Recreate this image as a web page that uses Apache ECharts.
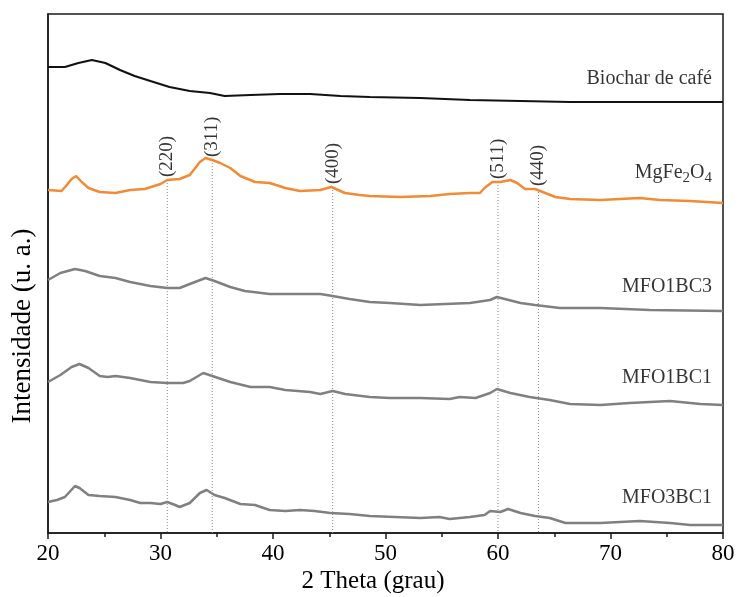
<!DOCTYPE html>
<html>
<head>
<meta charset="utf-8">
<script src="https://cdn.jsdelivr.net/npm/echarts@6/dist/echarts.min.js"></script>
<style>
  html, body { margin: 0; padding: 0; background: #fff; }
  #main { width: 739px; height: 597px; }
</style>
</head>
<body>
<div id="main"></div>
<script>
// 2 Theta (grau) e intensidade (u. a., com deslocamento vertical de cada curva)
const biocharTheta = [20.0, 21.5, 22.7, 23.9, 25.1, 26.4, 27.7, 29.1, 30.8, 32.6, 34.4, 35.7, 38.0, 40.6, 43.3, 46.0, 48.6, 53.1, 57.5, 62.0, 66.4, 70.8, 75.3, 80.0];
const biocharInt = [466, 466, 470, 473, 470, 463, 457, 452, 446, 442, 440, 437, 438, 439, 439, 437, 436, 435, 433, 432, 431, 431, 431, 431];

const mgfeTheta = [20.0, 21.2, 21.6, 22.1, 22.5, 23.0, 23.6, 24.6, 26.0, 27.3, 28.6, 30.0, 30.6, 31.7, 32.6, 33.5, 34.0, 34.6, 35.3, 36.2, 37.1, 38.4, 39.7, 41.1, 42.4, 44.2, 45.2, 46.4, 47.7, 48.6, 51.3, 54.0, 55.7, 57.5, 58.4, 58.8, 59.5, 60.2, 61.1, 61.7, 62.4, 63.3, 64.2, 65.1, 66.4, 69.1, 70.8, 72.6, 74.4, 77.1, 80.0];
const mgfeInt = [343, 342, 347, 354, 357, 351, 345, 341, 340, 343, 344, 349, 353, 354, 358, 371, 375, 373, 370, 365, 357, 351, 350, 345, 342, 343, 346, 340, 338, 337, 336, 337, 339, 340, 340, 345, 351, 351, 353, 350, 344, 344, 340, 336, 334, 333, 334, 335, 333, 332, 330];

const mfo1bc3Theta = [20.0, 21.1, 22.4, 23.3, 24.6, 26.0, 27.3, 29.1, 30.6, 31.7, 32.6, 34.0, 34.8, 36.2, 37.5, 39.7, 42.4, 44.2, 45.3, 46.8, 48.6, 50.4, 53.1, 57.5, 59.3, 59.9, 62.0, 63.3, 65.5, 69.1, 73.5, 80.0];
const mfo1bc3Int = [253, 260, 264, 262, 257, 255, 251, 247, 245, 245, 249, 255, 252, 246, 242, 239, 239, 239, 237, 234, 231, 230, 228, 230, 233, 236, 230, 228, 225, 225, 223, 222];

const mfo1bc1Theta = [20.0, 21.1, 22.1, 22.8, 23.6, 24.6, 25.3, 26.0, 27.3, 29.1, 30.6, 32.0, 32.6, 33.8, 34.6, 36.2, 38.0, 39.7, 41.1, 43.3, 44.2, 45.3, 46.4, 48.6, 50.4, 53.1, 55.7, 56.6, 58.0, 59.3, 59.9, 61.1, 62.8, 64.6, 66.4, 69.1, 71.7, 75.3, 78.0, 80.0];
const mfo1bc1Int = [151, 158, 166, 169, 165, 157, 156, 157, 155, 151, 150, 150, 152, 160, 157, 151, 146, 146, 143, 141, 139, 142, 139, 136, 135, 135, 134, 136, 135, 140, 144, 140, 136, 133, 129, 128, 130, 132, 129, 128];

const mfo3bc1Theta = [20.0, 20.8, 21.5, 22.4, 22.8, 23.6, 24.6, 26.0, 27.3, 28.2, 29.1, 30.0, 30.6, 31.3, 31.7, 32.6, 33.5, 34.1, 34.8, 35.7, 37.1, 38.4, 39.7, 41.1, 42.4, 43.7, 45.1, 46.8, 48.6, 53.1, 54.8, 55.7, 57.5, 58.8, 59.3, 60.2, 60.9, 62.0, 63.3, 64.6, 66.0, 69.1, 72.6, 75.3, 77.1, 80.0];
const mfo3bc1Int = [31, 33, 36, 47, 45, 38, 37, 36, 33, 30, 30, 29, 31, 28, 26, 30, 40, 43, 38, 35, 29, 28, 23, 22, 23, 22, 20, 19, 17, 15, 16, 14, 16, 18, 22, 21, 24, 20, 17, 15, 10, 10, 12, 10, 8, 8];

// planos cristalinos do MgFe2O4
const reflexoes = ['(220)', '(311)', '(400)', '(511)', '(440)'];
const reflexoesTheta = [30.6, 34.6, 45.3, 60.0, 63.6];
const reflexoesTopo = [353, 373, 346, 351, 344];

// nomes das amostras (lado direito)
const nomes = ['Biochar de café', 'MgFe{s|2}O{s|4}', 'MFO1BC3', 'MFO1BC1', 'MFO3BC1'];
const nomesInt = [454, 360, 246, 155, 35];

const xTicks = [20, 30, 40, 50, 60, 70, 80];

const serif = 'Liberation Serif';

function zip(a, b) {
  return a.map((v, i) => [v, b[i]]);
}

function curva(nome, theta, inten, cor, largura) {
  return {
    name: nome,
    type: 'line',
    data: zip(theta, inten),
    showSymbol: false,
    smooth: false,
    z: 3,
    lineStyle: { color: cor, width: largura }
  };
}

let chart = echarts.init(document.getElementById('main'));

let linhasPontilhadas = reflexoesTheta.map((t, i) => ({
  type: 'line',
  data: [[t, reflexoesTopo[i]], [t, 0]],
  showSymbol: false,
  silent: true,
  z: 1,
  lineStyle: { color: '#8a8a8a', width: 1, type: [1, 2] }
}));

let option = {
  animation: false,
  backgroundColor: '#fff',
  grid: {
    left: 48,
    right: 16,
    top: 14,
    bottom: 64,
    show: true,
    borderColor: '#1a1a1a',
    borderWidth: 1.5
  },
  xAxis: {
    type: 'value',
    min: xTicks[0],
    max: xTicks[xTicks.length - 1],
    interval: 10,
    axisLine: { onZero: false, lineStyle: { color: '#1a1a1a', width: 1.5 } },
    axisTick: { length: 6, lineStyle: { color: '#1a1a1a', width: 1.5 } },
    minorTick: { show: true, splitNumber: 2, length: 4, lineStyle: { color: '#1a1a1a', width: 1.5 } },
    splitLine: { show: false },
    axisLabel: { fontFamily: serif, fontSize: 23, color: '#000', margin: 9 }
  },
  yAxis: {
    type: 'value',
    min: 0,
    max: 519,
    axisLine: { show: true, lineStyle: { color: '#1a1a1a', width: 1.5 } },
    axisTick: { show: false },
    axisLabel: { show: false },
    splitLine: { show: false }
  },
  graphic: [
    {
      type: 'text',
      x: 373, y: 581,
      style: { text: '2 Theta (grau)', font: '25px ' + serif, fill: '#000', align: 'center', verticalAlign: 'middle' }
    },
    {
      type: 'text',
      x: 23, y: 326,
      rotation: Math.PI / 2,
      style: { text: 'Intensidade (u. a.)', font: '27px ' + serif, fill: '#000', align: 'center', verticalAlign: 'middle' }
    }
  ],
  series: [
    ...linhasPontilhadas,
    curva('Biochar de café', biocharTheta, biocharInt, '#111111', 2.2),
    curva('MgFe2O4', mgfeTheta, mgfeInt, '#f28a36', 2.5),
    curva('MFO1BC3', mfo1bc3Theta, mfo1bc3Int, '#808080', 2.5),
    curva('MFO1BC1', mfo1bc1Theta, mfo1bc1Int, '#808080', 2.5),
    curva('MFO3BC1', mfo3bc1Theta, mfo3bc1Int, '#808080', 2.5),
    {
      type: 'scatter',
      symbolSize: 0,
      silent: true,
      z: 4,
      data: reflexoesTheta.map((t, i) => ({ value: [t, reflexoesTopo[i] + 3], name: reflexoes[i] })),
      label: {
        show: true,
        position: 'inside',
        align: 'left',
        verticalAlign: 'middle',
        rotate: 90,
        formatter: '{b}',
        fontFamily: serif,
        fontSize: 19,
        color: '#000'
      }
    },
    {
      type: 'scatter',
      symbolSize: 0,
      silent: true,
      z: 4,
      data: nomes.map((n, i) => ({ value: [80, nomesInt[i]], name: n })),
      label: {
        show: true,
        position: 'left',
        distance: 11,
        formatter: '{b}',
        fontFamily: serif,
        fontSize: 20,
        color: '#000',
        rich: {
          s: { fontFamily: serif, fontSize: 15, color: '#000', padding: [11, 0, 0, 0] }
        }
      }
    }
  ]
};

chart.setOption(option);
</script>
</body>
</html>
